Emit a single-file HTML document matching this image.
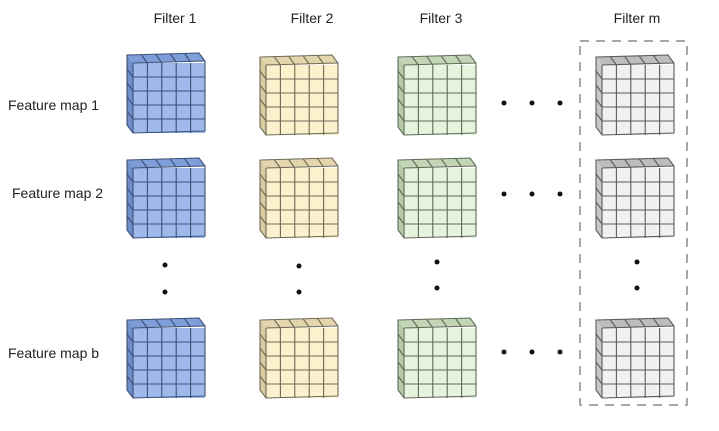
<!DOCTYPE html>
<html><head><style>
body{margin:0;background:#fff;width:719px;height:426px;overflow:hidden}
svg text{font-family:"Liberation Sans",sans-serif;font-size:14px;fill:#222}
</style></head><body>
<svg width="719" height="426" viewBox="0 0 719 426">
<defs>
<g id="cube">
<polygon points="0,0 72,-2 78,6 6,8" style="fill:var(--t)" stroke-width="1"/>
<polygon points="0,0 6,8 6,78 0,70" style="fill:var(--s)"/>
<rect x="6" y="8" width="72" height="70" style="fill:var(--f)"/>
<g fill="none" style="stroke:var(--k)" stroke-width="1.1">
<polygon points="0,0 72,-2 78,6 78,76 6,78 0,70"/>
<line x1="6" y1="8" x2="78" y2="6"/><line x1="6" y1="8" x2="6" y2="78"/>
<path d="M20.4,8V78M34.8,8V78M49.2,8V78M63.6,8V78M6,22H78M6,36H78M6,50H78M6,64H78"/>
<path d="M20.4,8L14.4,0M34.8,8L28.8,-0.5M49.2,7L43.2,-1M63.6,7L57.6,-1.5"/>
<path d="M0,14L6,22M0,28L6,36M0,42L6,50M0,56L6,64"/>
</g>
</g>
</defs>
<g style="--f:#9fb9ec;--t:#7e9ed9;--s:#6f8ecb;--k:#3d5075">
<use href="#cube" x="127" y="55"/><use href="#cube" x="127" y="160"/><use href="#cube" x="127" y="320"/>
</g>
<g style="--f:#fbf1cc;--t:#e3d6ac;--s:#d9cc9f;--k:#6f6a58">
<use href="#cube" x="260" y="57"/><use href="#cube" x="260" y="160"/><use href="#cube" x="260" y="320"/>
</g>
<g style="--f:#e6f3dd;--t:#c2d6b6;--s:#b6cca8;--k:#5f6a58">
<use href="#cube" x="398" y="57"/><use href="#cube" x="398" y="160"/><use href="#cube" x="398" y="320"/>
</g>
<g style="--f:#f1f1f1;--t:#bdbdbd;--s:#c8c8c8;--k:#5a5a5a">
<use href="#cube" x="596" y="57"/><use href="#cube" x="596" y="160"/><use href="#cube" x="596" y="320"/>
</g>
<rect x="580" y="41" width="107" height="364" fill="none" stroke="#a8a8a8" stroke-width="2" stroke-dasharray="9,7"/>
<g fill="#111">
<circle cx="504" cy="103" r="2.5"/><circle cx="532" cy="103" r="2.5"/><circle cx="560" cy="103" r="2.5"/>
<circle cx="504" cy="194" r="2.5"/><circle cx="532" cy="194" r="2.5"/><circle cx="560" cy="194" r="2.5"/>
<circle cx="504" cy="352" r="2.5"/><circle cx="532" cy="352" r="2.5"/><circle cx="560" cy="352" r="2.5"/>
<circle cx="165" cy="265" r="2.5"/><circle cx="165" cy="292" r="2.5"/>
<circle cx="299" cy="266" r="2.5"/><circle cx="299" cy="292" r="2.5"/>
<circle cx="437" cy="262" r="2.5"/><circle cx="437" cy="288" r="2.5"/>
<circle cx="637" cy="262" r="2.5"/><circle cx="637" cy="288" r="2.5"/>
</g>
<text x="175" y="23" text-anchor="middle">Filter 1</text>
<text x="312" y="23" text-anchor="middle">Filter 2</text>
<text x="441" y="23" text-anchor="middle">Filter 3</text>
<text x="637" y="23" text-anchor="middle">Filter m</text>
<text x="8" y="110">Feature map 1</text>
<text x="12" y="198">Feature map 2</text>
<text x="8" y="358">Feature map b</text>
</svg>
</body></html>
